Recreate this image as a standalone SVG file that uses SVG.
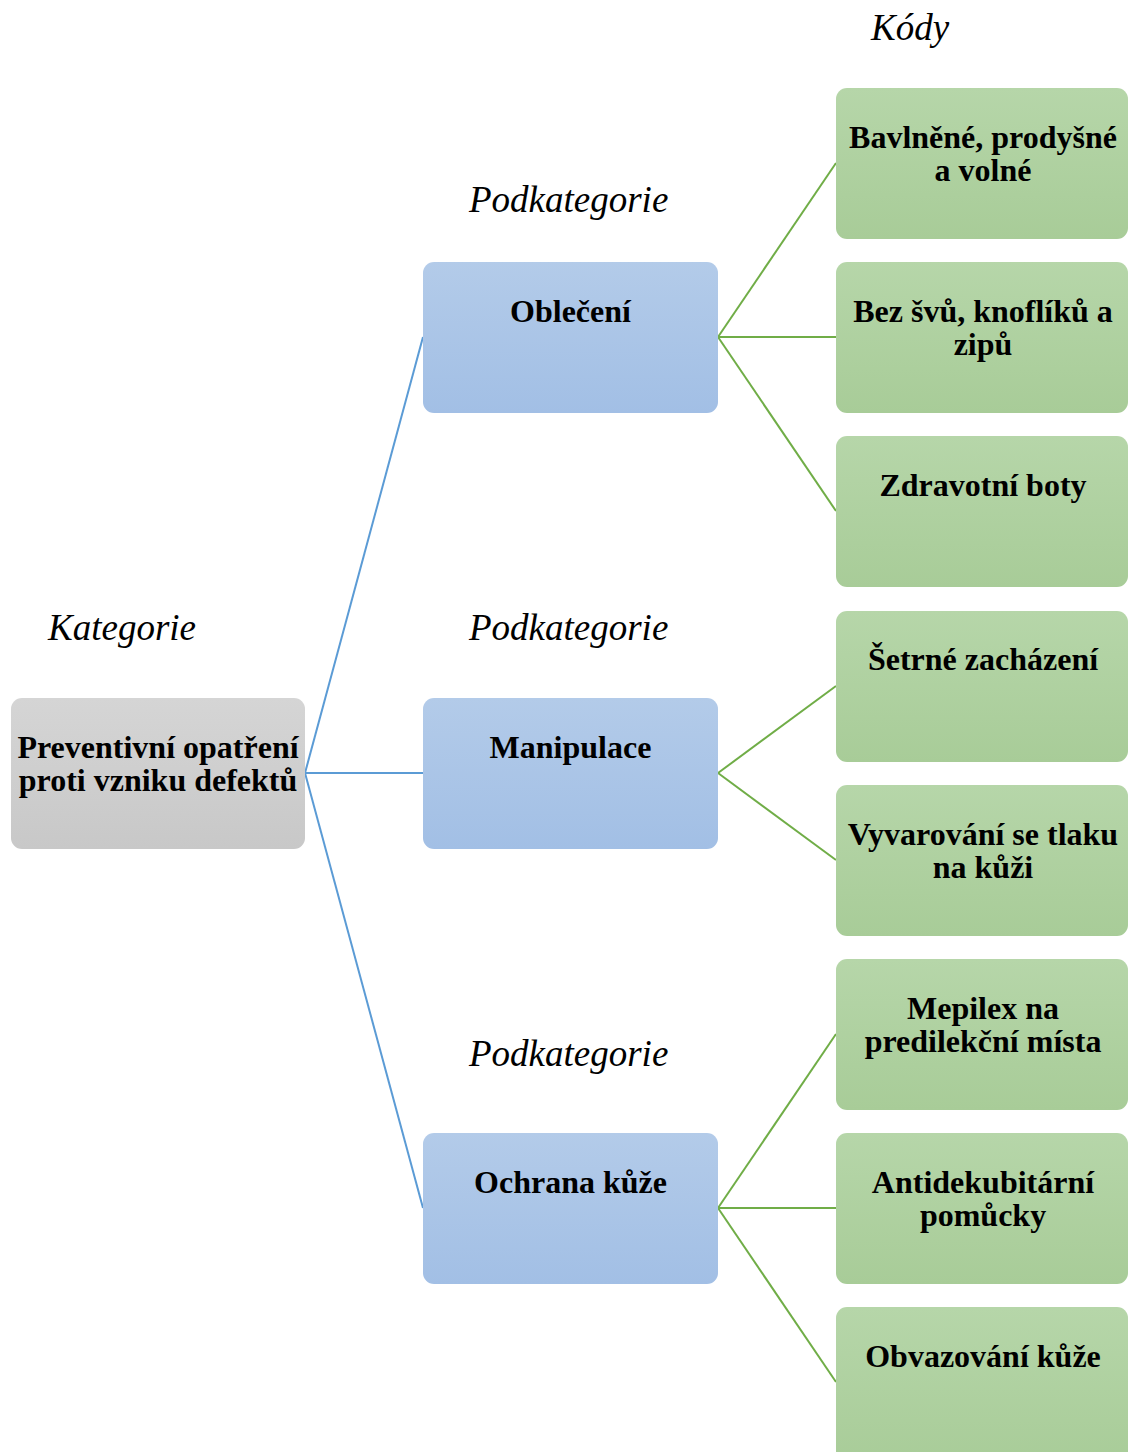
<svg xmlns="http://www.w3.org/2000/svg" width="1128" height="1452" viewBox="0 0 1128 1452">
  <defs>
    <linearGradient id="gGray" x1="0" y1="0" x2="0" y2="1">
      <stop offset="0" stop-color="#d5d5d5"/>
      <stop offset="1" stop-color="#c8c8c8"/>
    </linearGradient>
    <linearGradient id="gBlue" x1="0" y1="0" x2="0" y2="1">
      <stop offset="0" stop-color="#b3cbe9"/>
      <stop offset="1" stop-color="#a2bfe5"/>
    </linearGradient>
    <linearGradient id="gGreen" x1="0" y1="0" x2="0" y2="1">
      <stop offset="0" stop-color="#b6d6a9"/>
      <stop offset="1" stop-color="#a8cc98"/>
    </linearGradient>
  </defs>
  <style>
    .box { stroke: none; }
    .root { fill: url(#gGray); }
    .sub { fill: url(#gBlue); }
    .code { fill: url(#gGreen); }
    .t { font-family: "Liberation Serif", "Times New Roman", serif; font-weight: bold; font-size: 32px; fill: #000; text-anchor: middle; }
    .lbl { font-family: "Liberation Serif", "Times New Roman", serif; font-style: italic; font-size: 37px; fill: #000; }
    .cb { stroke: #5b9bd5; stroke-width: 2; fill: none; }
    .cg { stroke: #70ad47; stroke-width: 2; fill: none; }
  </style>

  <!-- column headings -->
  <text class="lbl" x="48" y="640">Kategorie</text>
  <text class="lbl" x="469" y="212">Podkategorie</text>
  <text class="lbl" x="469" y="640">Podkategorie</text>
  <text class="lbl" x="469" y="1066">Podkategorie</text>
  <text class="lbl" x="871" y="40">Kódy</text>

  <!-- connectors -->
  <g id="connectors">
    <line class="cb" x1="305" y1="773" x2="423" y2="337"/>
    <line class="cb" x1="305" y1="773" x2="423" y2="773"/>
    <line class="cb" x1="305" y1="773" x2="423" y2="1208"/>
    <line class="cg" x1="718" y1="337" x2="836" y2="163"/>
    <line class="cg" x1="718" y1="337" x2="836" y2="337"/>
    <line class="cg" x1="718" y1="337" x2="836" y2="511"/>
    <line class="cg" x1="718" y1="773" x2="836" y2="686"/>
    <line class="cg" x1="718" y1="773" x2="836" y2="860"/>
    <line class="cg" x1="718" y1="1208" x2="836" y2="1034"/>
    <line class="cg" x1="718" y1="1208" x2="836" y2="1208"/>
    <line class="cg" x1="718" y1="1208" x2="836" y2="1382"/>
  </g>

  <!-- category -->
  <g id="root">
    <rect class="box root" x="11" y="698" width="294" height="151" rx="11"/>
    <text class="t" x="158" y="758">Preventivní opatření</text>
    <text class="t" x="158" y="791">proti vzniku defektů</text>
  </g>

  <!-- subcategories -->
  <g id="sub-obleceni">
    <rect class="box sub" x="423" y="262" width="295" height="151" rx="11"/>
    <text class="t" x="570.5" y="322">Oblečení</text>
  </g>
  <g id="sub-manipulace">
    <rect class="box sub" x="423" y="698" width="295" height="151" rx="11"/>
    <text class="t" x="570.5" y="758">Manipulace</text>
  </g>
  <g id="sub-ochrana">
    <rect class="box sub" x="423" y="1133" width="295" height="151" rx="11"/>
    <text class="t" x="570.5" y="1193">Ochrana kůže</text>
  </g>

  <!-- codes -->
  <g id="code-bavlnene">
    <rect class="box code" x="836" y="88" width="292" height="151" rx="11"/>
    <text class="t" x="983" y="148">Bavlněné, prodyšné</text>
    <text class="t" x="983" y="181">a volné</text>
  </g>
  <g id="code-bez-svu">
    <rect class="box code" x="836" y="262" width="292" height="151" rx="11"/>
    <text class="t" x="983" y="322">Bez švů, knoflíků a</text>
    <text class="t" x="983" y="355">zipů</text>
  </g>
  <g id="code-boty">
    <rect class="box code" x="836" y="436" width="292" height="151" rx="11"/>
    <text class="t" x="983" y="496">Zdravotní boty</text>
  </g>
  <g id="code-setrne">
    <rect class="box code" x="836" y="611" width="292" height="151" rx="11"/>
    <text class="t" x="983" y="670">Šetrné zacházení</text>
  </g>
  <g id="code-tlak">
    <rect class="box code" x="836" y="785" width="292" height="151" rx="11"/>
    <text class="t" x="983" y="845">Vyvarování se tlaku</text>
    <text class="t" x="983" y="878">na kůži</text>
  </g>
  <g id="code-mepilex">
    <rect class="box code" x="836" y="959" width="292" height="151" rx="11"/>
    <text class="t" x="983" y="1019">Mepilex na</text>
    <text class="t" x="983" y="1052">predilekční místa</text>
  </g>
  <g id="code-antidekubitarni">
    <rect class="box code" x="836" y="1133" width="292" height="151" rx="11"/>
    <text class="t" x="983" y="1193">Antidekubitární</text>
    <text class="t" x="983" y="1226">pomůcky</text>
  </g>
  <g id="code-obvazovani">
    <rect class="box code" x="836" y="1307" width="292" height="160" rx="11"/>
    <text class="t" x="983" y="1367">Obvazování kůže</text>
  </g>
</svg>
